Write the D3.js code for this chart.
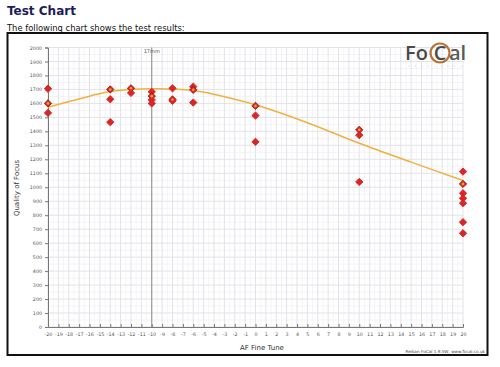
<!DOCTYPE html>
<html>
<head>
<meta charset="utf-8">
<script src="https://cdn.jsdelivr.net/npm/d3@7"></script>
<style>
  body { margin: 0; background: #fff; font-family: 'DejaVu Sans', Verdana, sans-serif; }
  svg { display: block; }
</style>
</head>
<body>
<svg id="chart" width="500" height="367"></svg>
<script>
// focus test readings: AF fine tune -> quality of focus
const tuneValues = [-20, -20, -20, -14, -14, -14, -12, -12, -10, -10, -10, -10, -8, -8, -8, -6, -6, -6, 0, 0, 0, 10, 10, 10, 20, 20, 20, 20, 20, 20, 20]
const focusValues = [1705, 1600, 1532, 1700, 1630, 1466, 1708, 1675, 1683, 1652, 1625, 1600, 1708, 1628, 1618, 1720, 1697, 1606, 1582, 1513, 1325, 1411, 1373, 1038, 1112, 1024, 957, 921, 886, 750, 671]
const markedPoints = [1, 3, 6, 9, 13, 16, 18, 21, 25]

const curveTune = [-20, -17, -14, -10, -6, -2, 0, 5, 10, 15, 20]
const curveFocus = [1573, 1632, 1685, 1705, 1692, 1630, 1590, 1462, 1315, 1180, 1048]

const yTicks = d3.range(0, 2001, 100)
const xTicks = d3.range(-20, 21, 1)
const bestTune = -10
const bestLabel = '17mm'

const svg = d3.select('#chart')

svg.append('text')
  .attr('x', 7).attr('y', 15)
  .attr('font-size', 12).attr('font-weight', 'bold')
  .attr('fill', '#1c1c5c')
  .text('Test Chart')

svg.append('text')
  .attr('x', 7).attr('y', 31)
  .attr('font-size', 8.4).attr('fill', '#111')
  .text('The following chart shows the test results:')

svg.append('rect')
  .attr('x', 7.5).attr('y', 33)
  .attr('width', 480).attr('height', 322)
  .attr('fill', '#fff').attr('stroke', '#111').attr('stroke-width', 2)

const x = d3.scaleLinear().domain([-20, 20]).range([48, 463])
const y = d3.scaleLinear().domain([0, 2000]).range([327, 47.5])

const g = svg.append('g')

// minor grid
g.selectAll('.vminor')
  .data(d3.range(-19.5, 20, 1))
  .join('line')
  .attr('x1', d => x(d)).attr('x2', d => x(d))
  .attr('y1', y(0)).attr('y2', y(2000))
  .attr('stroke', '#f5f5f7').attr('stroke-width', 1)
g.selectAll('.hminor')
  .data(d3.range(50, 2000, 100))
  .join('line')
  .attr('x1', x(-20)).attr('x2', x(20))
  .attr('y1', d => y(d)).attr('y2', d => y(d))
  .attr('stroke', '#f3f3f6').attr('stroke-width', 1)

// major grid
g.selectAll('.vmajor')
  .data(xTicks)
  .join('line')
  .attr('x1', d => x(d)).attr('x2', d => x(d))
  .attr('y1', y(0)).attr('y2', y(2000))
  .attr('stroke', '#e2e3e8').attr('stroke-width', 1)
g.selectAll('.hmajor')
  .data(yTicks)
  .join('line')
  .attr('x1', x(-20)).attr('x2', x(20))
  .attr('y1', d => y(d)).attr('y2', d => y(d))
  .attr('stroke', '#e2e3e8').attr('stroke-width', 1)

// axes
const fmt = d => String(d)
const yAxis = d3.axisLeft(y).tickValues(yTicks).tickSize(3).tickPadding(3).tickFormat(fmt)
const yg = g.append('g').attr('transform', `translate(${x(-20)},0)`).call(yAxis)
const xAxis = d3.axisBottom(x).tickValues(xTicks).tickSize(-3).tickPadding(6).tickFormat(fmt)
const xg = g.append('g').attr('transform', `translate(0,${y(0)})`).call(xAxis)
;[yg, xg].forEach(a => {
  a.select('.domain').attr('stroke', '#777')
  a.selectAll('.tick line').attr('stroke', '#777')
  a.selectAll('.tick text').attr('font-size', 4.8).attr('fill', '#555')
    .attr('font-family', "'DejaVu Sans', sans-serif")
})

// best position marker
g.append('line')
  .attr('x1', x(bestTune)).attr('x2', x(bestTune))
  .attr('y1', y(0)).attr('y2', y(2000))
  .attr('stroke', '#8a8a8a').attr('stroke-width', 1)
g.append('text')
  .attr('x', x(bestTune)).attr('y', 53)
  .attr('text-anchor', 'middle').attr('font-size', 5).attr('fill', '#555')
  .text(bestLabel)

// curve
const line = d3.line()
  .x((d, i) => x(curveTune[i]))
  .y(d => y(d))
  .curve(d3.curveCatmullRom)
g.append('path')
  .attr('d', line(curveFocus))
  .attr('fill', 'none').attr('stroke', '#f0b040').attr('stroke-width', 1.5)

// points
const pts = tuneValues.map((t, i) => ({ t, v: focusValues[i], marked: markedPoints.includes(i) }))
const diamond = d3.symbol().type(d3.symbolSquare).size(27)
g.selectAll('.pt')
  .data(pts)
  .join('path')
  .attr('transform', d => `translate(${x(d.t)},${y(d.v)}) rotate(45)`)
  .attr('d', diamond)
  .attr('fill', '#dc2626')
  .attr('stroke', d => (d.marked ? '#8a1a10' : '#d42020'))
  .attr('stroke-width', 0.8)
g.selectAll('.ptc')
  .data(pts.filter(d => d.marked))
  .join('circle')
  .attr('cx', d => x(d.t)).attr('cy', d => y(d.v))
  .attr('r', 1.3)
  .attr('fill', '#f0a040')

// axis titles
svg.append('text')
  .attr('transform', `translate(19,188) rotate(-90)`)
  .attr('text-anchor', 'middle').attr('font-size', 7).attr('fill', '#333')
  .text('Quality of Focus')
svg.append('text')
  .attr('x', 262).attr('y', 350)
  .attr('text-anchor', 'middle').attr('font-size', 7).attr('fill', '#333')
  .text('AF Fine Tune')

// footer
svg.append('text')
  .attr('x', 485).attr('y', 353)
  .attr('text-anchor', 'end').attr('font-size', 4.2).attr('fill', '#444')
  .text('Reikan FoCal 1.9.5W, www.focal.co.uk')

// logo
const logo = svg.append('g').attr('font-family', "'Open Sans', sans-serif").attr('font-size', 20).attr('font-weight', 600)
logo.append('text').attr('x', 405).attr('y', 60).attr('fill', '#4a4a4a').text('Fo')
logo.append('circle').attr('cx', 440).attr('cy', 53).attr('r', 9.5)
  .attr('fill', 'none').attr('stroke', '#b87333').attr('stroke-width', 2.2)
logo.append('text').attr('x', 440).attr('y', 60).attr('text-anchor', 'middle').attr('fill', '#4a4a4a').text('C')
logo.append('text').attr('x', 449).attr('y', 60).attr('fill', '#5a5a5a').text('al')
// dotted tagline under the logo
logo.selectAll('.dot')
  .data(d3.range(0, 9))
  .join('circle')
  .attr('cx', d => 409 + d * 6.5).attr('cy', 66)
  .attr('r', 0.45).attr('fill', '#999')
</script>
</body>
</html>
